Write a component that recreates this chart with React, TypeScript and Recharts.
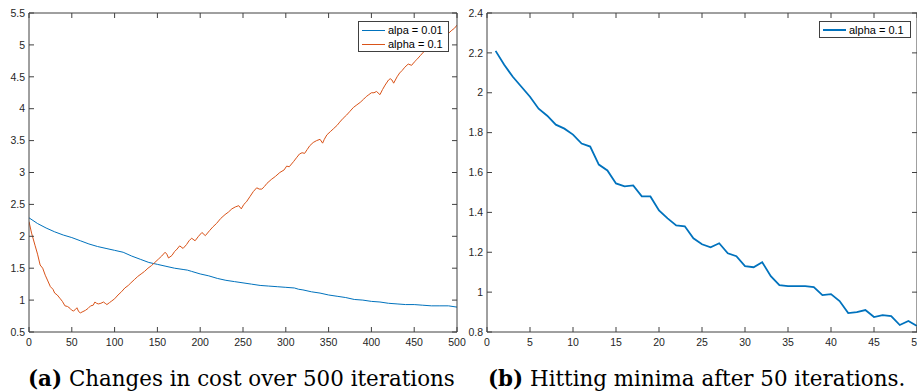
import { Legend, Line, LineChart, XAxis, YAxis } from 'recharts'

// (a) cost over 500 iterations
const costTicksX = [0, 50, 100, 150, 200, 250, 300, 350, 400, 450, 500]
const costTicksY = [0.5, 1, 1.5, 2, 2.5, 3, 3.5, 4, 4.5, 5, 5.5]

const slowIters = [
  0, 10, 20, 30, 40, 50, 60, 70, 80, 90, 100, 110, 120, 130, 140, 150, 160, 170, 180, 185, 190, 200,
  210, 220, 230, 240, 250, 260, 270, 280, 290, 300, 310, 315, 320, 330, 340, 350, 360, 370, 380, 390,
  400, 410, 420, 430, 440, 450, 460, 470, 480, 490, 500,
]
const slowCost = [
  2.29, 2.2, 2.13, 2.07, 2.02, 1.98, 1.93, 1.88, 1.84, 1.81, 1.78, 1.75, 1.69, 1.64, 1.59, 1.56, 1.53,
  1.5, 1.48, 1.47, 1.45, 1.41, 1.38, 1.34, 1.31, 1.29, 1.27, 1.25, 1.23, 1.22, 1.21, 1.2, 1.19, 1.17,
  1.16, 1.13, 1.11, 1.08, 1.06, 1.04, 1.01, 1.0, 0.98, 0.97, 0.95, 0.94, 0.93, 0.93, 0.92, 0.91, 0.91,
  0.91, 0.89,
]

const fastIters = [
  0, 3, 7, 10, 13, 16, 19, 22, 25, 28, 30, 33, 36, 39, 42, 45, 48, 50, 52, 54, 56, 58, 60, 63, 66, 69,
  72, 75, 77, 79, 81, 84, 87, 89, 91, 94, 96, 100, 104, 108, 112, 116, 119, 123, 127, 131, 135, 139,
  143, 147, 151, 155, 159, 161, 163, 167, 170, 173, 176, 180, 184, 187, 190, 194, 198, 202, 206, 211,
  215, 219, 224, 229, 233, 237, 241, 245, 248, 251, 254, 258, 262, 266, 269, 272, 275, 278, 283, 288,
  293, 298, 301, 304, 309, 313, 316, 319, 322, 325, 328, 332, 336, 340, 343, 345, 348, 352, 356, 360,
  363, 367, 371, 375, 379, 383, 387, 391, 394, 397, 400, 403, 406, 410, 413, 416, 420, 422, 424, 426,
  430, 433, 436, 439, 443, 447, 450, 453, 457, 461, 466, 471, 476, 481, 486, 490, 494, 497, 500,
]
const fastCost = [
  2.23, 2.05, 1.86, 1.72, 1.55, 1.5, 1.39, 1.3, 1.21, 1.17, 1.11, 1.08, 1.03, 0.98, 0.91, 0.9, 0.87,
  0.84, 0.83, 0.85, 0.88, 0.82, 0.8, 0.82, 0.84, 0.87, 0.91, 0.92, 0.97, 0.95, 0.94, 0.95, 0.97, 0.95,
  0.93, 0.96, 0.98, 1.02, 1.08, 1.13, 1.19, 1.23, 1.27, 1.32, 1.37, 1.41, 1.45, 1.5, 1.54, 1.59, 1.64,
  1.69, 1.75, 1.72, 1.66, 1.7, 1.76, 1.8, 1.85, 1.81, 1.87, 1.93, 1.97, 1.93, 2.0, 2.06, 2.01, 2.09,
  2.15, 2.2, 2.28, 2.34, 2.38, 2.43, 2.46, 2.48, 2.43, 2.5, 2.54, 2.62, 2.7, 2.76, 2.74, 2.74, 2.78,
  2.83, 2.89, 2.94, 3.0, 3.04, 3.1, 3.09, 3.17, 3.24, 3.29, 3.31, 3.3, 3.36, 3.42, 3.47, 3.5, 3.52,
  3.46, 3.52, 3.59, 3.64, 3.69, 3.74, 3.79, 3.85, 3.9, 3.96, 4.02, 4.06, 4.1, 4.15, 4.19, 4.22, 4.25,
  4.25, 4.27, 4.22, 4.3, 4.37, 4.45, 4.47, 4.45, 4.4, 4.5, 4.56, 4.6, 4.65, 4.7, 4.68, 4.73, 4.77,
  4.83, 4.89, 4.95, 5.01, 5.06, 5.1, 5.14, 5.18, 5.23, 5.26, 5.31,
]

// (b) first 50 iterations
const minimaTicksX = [0, 5, 10, 15, 20, 25, 30, 35, 40, 45, 50]
const minimaTicksY = [0.8, 1, 1.2, 1.4, 1.6, 1.8, 2, 2.2, 2.4]
const minimaIters = [
  1, 2, 3, 4, 5, 6, 7, 8, 9, 10, 11, 12, 13, 14, 15, 16, 17, 18, 19, 20, 21, 22, 23, 24, 25, 26, 27,
  28, 29, 30, 31, 32, 33, 34, 35, 36, 37, 38, 39, 40, 41, 42, 43, 44, 45, 46, 47, 48, 49, 50,
]
const minimaCost = [
  2.21, 2.14, 2.08, 2.03, 1.98, 1.92, 1.885, 1.84, 1.82, 1.79, 1.745, 1.73, 1.64, 1.61, 1.545, 1.53,
  1.535, 1.48, 1.48, 1.41, 1.37, 1.335, 1.33, 1.27, 1.24, 1.225, 1.245, 1.195, 1.18, 1.13, 1.125,
  1.15, 1.08, 1.035, 1.03, 1.03, 1.03, 1.025, 0.985, 0.99, 0.955, 0.895, 0.9, 0.91, 0.875, 0.885,
  0.88, 0.835, 0.855, 0.83,
]

const BLUE = '#0072BD'
const ORANGE = '#D95319'
const AXIS = '#404040'
const sans = '"Liberation Sans", Arial, Helvetica, sans-serif'
const tickStyle = { fontSize: 10.5, fill: '#262626', fontFamily: sans }

const zip = (xs: number[], ys: number[]) => xs.map((x, i) => ({ x, y: ys[i] }))

function LegendBox({
  payload,
  width,
  height,
  lineWidth,
}: {
  payload?: any[]
  width: number
  height: number
  lineWidth: number
}) {
  return (
    <div
      style={{
        boxSizing: 'border-box',
        width,
        height,
        border: `1px solid ${AXIS}`,
        background: '#fff',
        padding: '1px 3px',
        fontFamily: sans,
        fontSize: 11,
        color: '#000',
      }}
    >
      {(payload ?? []).map((e) => (
        <div key={e.value} style={{ display: 'flex', alignItems: 'center', height: 14 }}>
          <span style={{ width: 23, height: lineWidth, background: e.color, marginRight: 3 }} />
          <span style={{ whiteSpace: 'nowrap' }}>{e.value}</span>
        </div>
      ))}
    </div>
  )
}

// matlab-style box: inward ticks on all four sides, labels only bottom/left
function boxAxes(xDomain: number[], xTicks: number[], yDomain: number[], yTicks: number[], yWidth: number) {
  const blank = () => ''
  return [
    <XAxis
      key="xb"
      xAxisId="b"
      type="number"
      dataKey="x"
      domain={xDomain}
      ticks={xTicks}
      interval={0}
      height={20}
      tickSize={-5}
      tickMargin={12}
      stroke={AXIS}
      tick={tickStyle}
      allowDataOverflow
    />,
    <XAxis
      key="xt"
      xAxisId="t"
      orientation="top"
      type="number"
      dataKey="x"
      domain={xDomain}
      ticks={xTicks}
      interval={0}
      height={1}
      tickSize={-5}
      stroke={AXIS}
      tickFormatter={blank}
      allowDataOverflow
    />,
    <YAxis
      key="yl"
      yAxisId="l"
      type="number"
      domain={yDomain}
      ticks={yTicks}
      interval={0}
      width={yWidth}
      tickSize={-5}
      tickMargin={9}
      stroke={AXIS}
      tick={tickStyle}
      allowDataOverflow
    />,
    <YAxis
      key="yr"
      yAxisId="r"
      orientation="right"
      type="number"
      domain={yDomain}
      ticks={yTicks}
      interval={0}
      width={1}
      tickSize={-5}
      stroke={AXIS}
      tickFormatter={blank}
      allowDataOverflow
    />,
  ]
}

const captionStyle = {
  position: 'absolute' as const,
  top: 368,
  fontFamily: "'DejaVu Serif', serif",
  fontSize: 21.4,
  lineHeight: '21.4px',
  color: '#000',
  whiteSpace: 'nowrap' as const,
}

export default function App() {
  return (
    <div
      style={{
        position: 'absolute',
        left: 0,
        top: 0,
        width: 917,
        height: 391,
        overflow: 'hidden',
        background: '#fff',
      }}
    >
      <div style={{ position: 'absolute', left: 0, top: 0 }}>
        <LineChart width={470} height={352} margin={{ top: 12, right: 12, bottom: 0, left: 0 }}>
          {boxAxes([0, 500], costTicksX, [0.5, 5.5], costTicksY, 29)}
          <Line
            xAxisId="b"
            yAxisId="l"
            data={zip(slowIters, slowCost)}
            dataKey="y"
            name="alpa = 0.01"
            stroke={BLUE}
            strokeWidth={1}
            dot={false}
            type="linear"
            isAnimationActive={false}
          />
          <Line
            xAxisId="b"
            yAxisId="l"
            data={zip(fastIters, fastCost)}
            dataKey="y"
            name="alpha = 0.1"
            stroke={ORANGE}
            strokeWidth={1}
            dot={false}
            type="linear"
            isAnimationActive={false}
          />
          <Legend
            layout="vertical"
            align="center"
            verticalAlign="middle"
            wrapperStyle={{ position: 'absolute', left: 358, top: 21, width: 91, height: 31 }}
            content={(p: any) => <LegendBox payload={p.payload} width={91} height={31} lineWidth={1} />}
          />
        </LineChart>
      </div>

      <div style={{ position: 'absolute', left: 460, top: 0 }}>
        <LineChart width={460} height={352} margin={{ top: 12, right: 2, bottom: 0, left: 0 }}>
          {boxAxes([0, 50], minimaTicksX, [0.8, 2.4], minimaTicksY, 27)}
          <Line
            xAxisId="b"
            yAxisId="l"
            data={zip(minimaIters, minimaCost)}
            dataKey="y"
            name="alpha = 0.1"
            stroke={BLUE}
            strokeWidth={1.8}
            dot={false}
            type="linear"
            isAnimationActive={false}
          />
          <Legend
            layout="vertical"
            align="center"
            verticalAlign="middle"
            wrapperStyle={{ position: 'absolute', left: 359, top: 21, width: 92, height: 17 }}
            content={(p: any) => <LegendBox payload={p.payload} width={92} height={17} lineWidth={2} />}
          />
        </LineChart>
      </div>

      <div style={{ ...captionStyle, left: 28 }}>
        <b>(a)</b> Changes in cost over 500 iterations
      </div>
      <div style={{ ...captionStyle, left: 488 }}>
        <b>(b)</b> Hitting minima after 50 iterations.
      </div>
    </div>
  )
}
